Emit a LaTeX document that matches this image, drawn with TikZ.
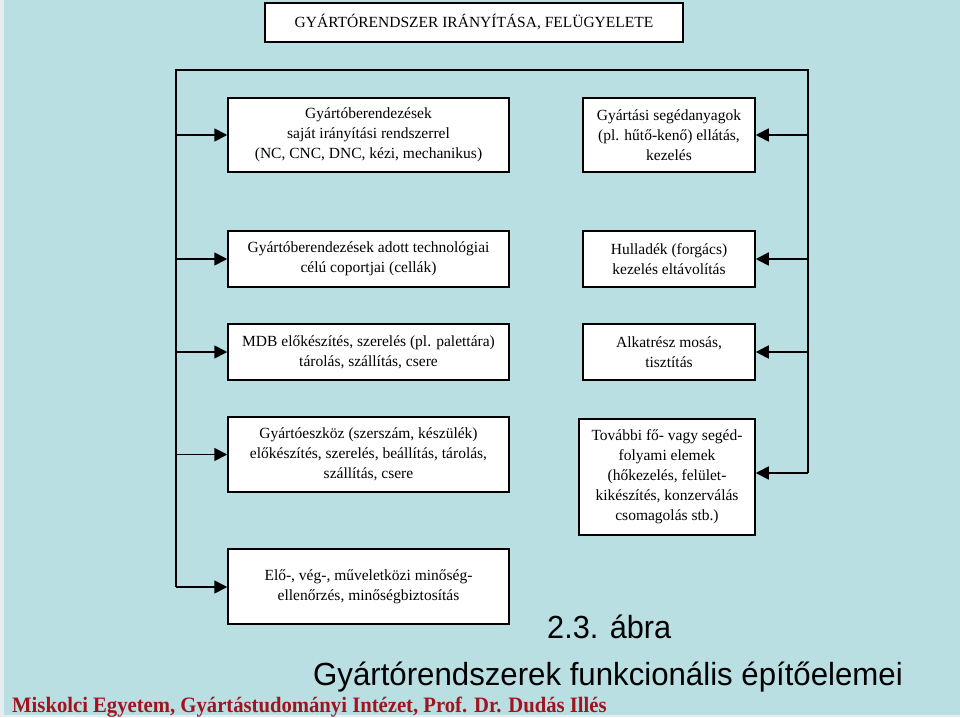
\documentclass[tikz,border=0pt]{standalone}
\usepackage{fontspec}
\setmainfont{Liberation Serif}
\newfontfamily\capfont{Liberation Sans}
\usetikzlibrary{arrows.meta}
\definecolor{bg}{RGB}{185,223,227}
\definecolor{strip}{RGB}{228,238,240}
\definecolor{foot}{RGB}{160,20,30}
\begin{document}
\begin{tikzpicture}[x=1pt,y=-1pt,
  box/.style={draw=black,line width=1.5pt,fill=white,align=center,inner sep=0pt,
    font=\fontsize{15.5}{20}\selectfont},
  lbox/.style={box,minimum width=281pt},
  rbox/.style={box,minimum width=172pt},
  conn/.style={line width=1.7pt,-{Triangle[length=13pt,width=13pt]}},
  bus/.style={line width=1.7pt}]
\useasboundingbox (0,0) rectangle (960,717);
\fill[strip] (0,0) rectangle (960,717);
\fill[bg] (4,0) rectangle (960,715);

\node[box,minimum width=418pt,minimum height=39pt] (top) at (474,22.5)
  {GYÁRTÓRENDSZER IRÁNYÍTÁSA, FELÜGYELETE};

\node[lbox,minimum height=74pt] (l1) at (368.5,135)
  {Gyártóberendezések\\saját irányítási rendszerrel\\(NC, CNC, DNC, kézi, mechanikus)};
\node[rbox,minimum height=74pt] (r1) at (669,135)
  {Gyártási segédanyagok\\(pl. hűtő-kenő) ellátás,\\kezelés};
\node[lbox,minimum height=56pt] (l2) at (368.5,259)
  {Gyártóberendezések adott technológiai\\célú coportjai (cellák)};
\node[rbox,minimum height=56pt] (r2) at (669,259)
  {Hulladék (forgács)\\kezelés eltávolítás};
\node[lbox,minimum height=56pt] (l3) at (368.5,352)
  {MDB előkészítés, szerelés (pl. palettára)\\tárolás, szállítás, csere};
\node[rbox,minimum height=56pt] (r3) at (669,352)
  {Alkatrész mosás,\\tisztítás};
\node[lbox,minimum height=75pt] (l4) at (368.5,454.5)
  {Gyártóeszköz (szerszám, készülék)\\előkészítés, szerelés, beállítás, tárolás,\\szállítás, csere};
\node[box,minimum width=176pt,minimum height=116pt] (r4) at (667,477)
  {További fő- vagy segéd-\\folyami elemek\\(hőkezelés, felület-\\kikészítés, konzerválás\\csomagolás stb.)};
\node[lbox,minimum height=75pt] (l5) at (368.5,586.5)
  {Elő-, vég-, műveletközi minőség-\\ellenőrzés, minőségbiztosítás};

\coordinate (lt) at (176,70);
\coordinate (rt) at (808,70);
\coordinate (lb) at (176,587);
\coordinate (rb) at (808,473);
\draw[bus] (lb) -- (lt) -- (rt) -- (rb);

\draw[conn] (l1.west -| lt) -- (l1.west);
\draw[conn] (l2.west -| lt) -- (l2.west);
\draw[conn] (l3.west -| lt) -- (l3.west);
\draw[conn] (l4.west -| lt) -- (l4.west);
\draw[conn] (lb) -- (lb -| l5.west);
\draw[conn] (r1.east -| rt) -- (r1.east);
\draw[conn] (r2.east -| rt) -- (r2.east);
\draw[conn] (r3.east -| rt) -- (r3.east);
\draw[conn] (rb) -- (rb -| r4.east);

\node[anchor=base west,inner sep=0pt,xscale=0.96,
  font=\capfont\fontsize{32}{32}\selectfont] (cap1) at (547,638) {2.3. ábra};
\node[anchor=base west,inner sep=0pt,xscale=0.975,
  font=\capfont\fontsize{32}{32}\selectfont] (cap2) at (313,685)
  {Gyártórendszerek funkcionális építőelemei};
\node[anchor=base west,inner sep=0pt,xscale=0.94,text=foot,
  font=\bfseries\fontsize{22}{22}\selectfont] (foot) at (12,712)
  {Miskolci Egyetem, Gyártástudományi Intézet, Prof. Dr. Dudás Illés};
\end{tikzpicture}
\end{document}
